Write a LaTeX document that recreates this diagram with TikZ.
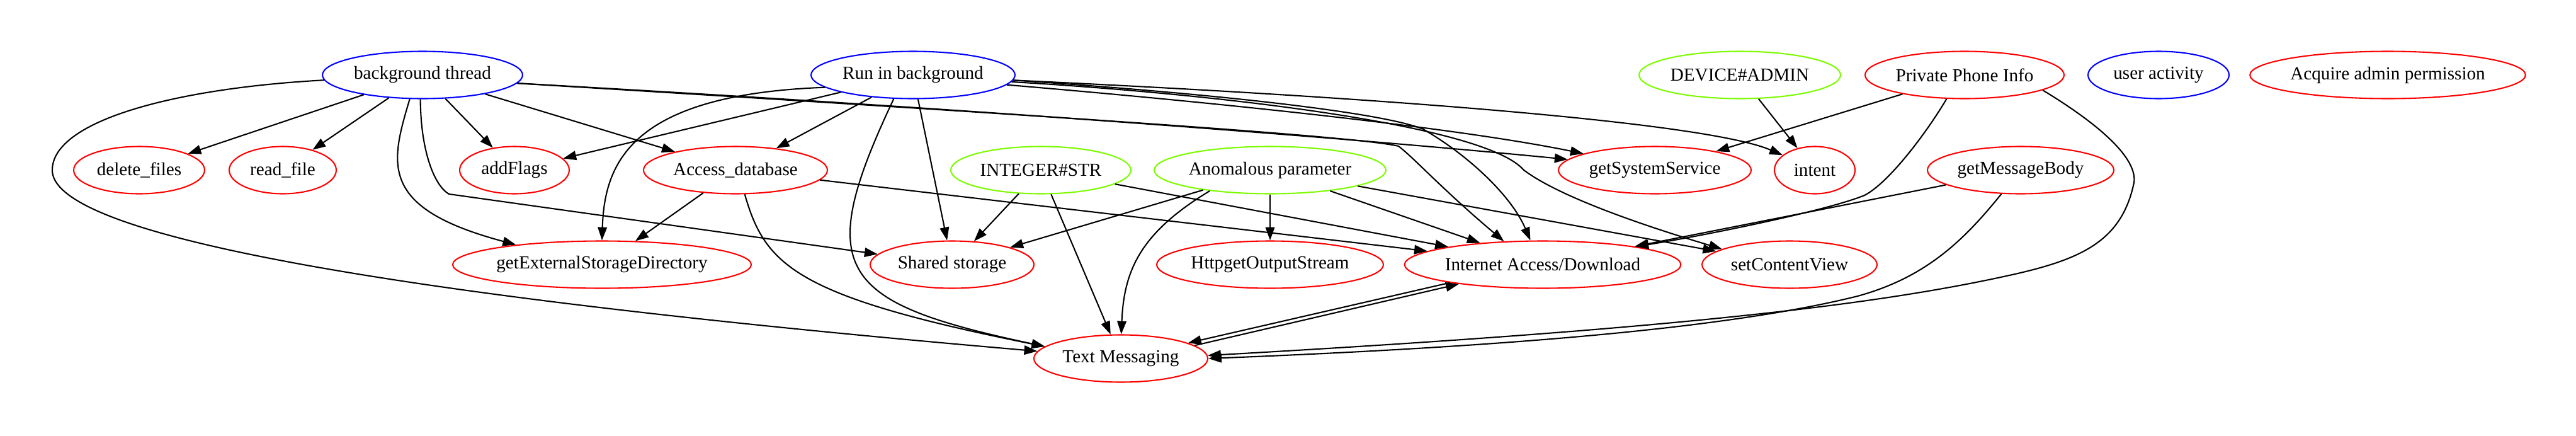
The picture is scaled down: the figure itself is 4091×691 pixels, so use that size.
\documentclass[tikz,border=0pt]{standalone}
\usepackage{fontspec}
\setmainfont{Liberation Serif}
\usetikzlibrary{arrows.meta,shapes.geometric}
\definecolor{gvblue}{RGB}{0,0,255}
\definecolor{gvred}{RGB}{255,0,0}
\definecolor{gvgreen}{RGB}{124,252,0}
\begin{document}
\begin{tikzpicture}[x=0.48pt,y=-0.48pt,
  gn/.style={ellipse,draw,line width=1pt,inner sep=0pt,minimum height=36pt,font=\fontsize{14pt}{17pt}\selectfont},
  bl/.style={gn,draw=gvblue},
  rd/.style={gn,draw=gvred},
  gr/.style={gn,draw=gvgreen},
  e/.style={draw=black,line width=1pt,-{Triangle[length=10pt,width=7pt]}}]
\useasboundingbox (0,0) rectangle (4091,691);
% nodes
\node[bl, minimum width=152.6pt] (bt) at (671,119) {background thread};
\node[bl, minimum width=155.5pt] (rb) at (1450,119) {Run in background};
\node[gr, minimum width=153.6pt] (dev) at (2763,119) {DEVICE\#ADMIN};
\node[rd, minimum width=151.7pt] (pp) at (3120,119) {Private Phone Info};
\node[bl, minimum width=107.5pt] (ua) at (3428,119) {user activity};
\node[rd, minimum width=207.4pt] (aap) at (3792,119) {Acquire admin permission};
\node[rd, minimum width=99.8pt] (del) at (221,270) {delete\_files};
\node[rd, minimum width=81.6pt] (rf) at (449,270) {read\_file};
\node[rd, minimum width=83.5pt] (af) at (817,270) {addFlags};
\node[rd, minimum width=140.2pt] (ad) at (1168,270) {Access\_database};
\node[gr, minimum width=137.3pt] (is) at (1653,270) {INTEGER\#STR};
\node[gr, minimum width=176.6pt] (ap) at (2017,270) {Anomalous parameter};
\node[rd, minimum width=146.9pt] (gss) at (2628,270) {getSystemService};
\node[rd, minimum width=61.4pt] (int) at (2882,270) {intent};
\node[rd, minimum width=142.1pt] (gm) at (3209,270) {getMessageBody};
\node[rd, minimum width=222.7pt] (gesd) at (956,420) {getExternalStorageDirectory};
\node[rd, minimum width=124.8pt] (ss) at (1512,420) {Shared storage};
\node[rd, minimum width=172.8pt] (hos) at (2017,420) {HttpgetOutputStream};
\node[rd, minimum width=207.4pt] (ia) at (2450,420) {Internet Access/Download};
\node[rd, minimum width=133.4pt] (scv) at (2842,420) {setContentView};
\node[rd, minimum width=132.5pt] (tm) at (1780,569) {Text Messaging};
% edges from background thread
\draw[e] (bt) -- (del);
\draw[e] (bt) -- (rf);
\draw[e] (bt) -- (af);
\draw[e] (bt) -- (ad);
\draw[e] (bt.242) .. controls (620,260) and (600,330) .. (gesd.167.5);
\draw[e] (bt.265.7) .. controls (668,240) and (690,295) .. (713,308) -- (ss.172.4);
\draw[e] (bt.183.7) .. controls (277,140) and (83,192) .. (83,270) .. controls (83,350) and (400,450) .. (tm.175.6);
\draw[e] (bt.355.9) .. controls (1500,170) and (2100,215) .. (gss.173.4);
\draw[e] (bt.355.9) .. controls (1600,180) and (2150,215) .. (2221,232) .. controls (2245,250) and (2290,300) .. (ia.149.7);
% edges from Run in background
\draw[e] (rb) -- (af);
\draw[e] (rb.188.4) .. controls (1000,150) and (960,260) .. (gesd.90);
\draw[e] (rb) -- (ad);
\draw[e] (rb.231.9) .. controls (1290,430) and (1330,480) .. (tm.171.8);
\draw[e] (rb) -- (ss);
\draw[e] (rb.354.9) .. controls (1900,160) and (2300,200) .. (gss.167.4);
\draw[e] (rb.357.5) .. controls (2100,150) and (2700,190) .. (int.155.3);
\draw[e] (rb.357) .. controls (1950,150) and (2200,180) .. (2260,205) .. controls (2330,245) and (2400,310) .. (ia.117);
\draw[e] (rb.356.4) .. controls (1950,150) and (2360,200) .. (2420,270) .. controls (2460,300) and (2550,340) .. (scv.167.6);
% Access_database
\draw[e] (ad) -- (gesd);
\draw[e] (ad.291.5) .. controls (1215,420) and (1260,470) .. (tm.171);
\draw[e] (ad) -- (ia);
% INTEGER#STR
\draw[e] (is) -- (ss);
\draw[e] (is) -- (tm);
\draw[e] (is) -- (ia);
% Anomalous parameter
\draw[e] (ap) -- (ss);
\draw[e] (ap.199.3) .. controls (1810,370) and (1785,430) .. (tm.89.5);
\draw[e] (ap) -- (hos);
\draw[e] (ap) -- (ia);
\draw[e] (ap) -- (scv);
% DEVICE#ADMIN
\draw[e] (dev) -- (int);
% Private Phone Info
\draw[e] (pp) -- (gss);
\draw[e] (pp.233.6) .. controls (3060,210) and (3000,290) .. (2961,310) .. controls (2900,335) and (2700,375) .. (ia.11.6);
\draw[e] (pp.349.1) .. controls (3330,195) and (3395,250) .. (3389,290) .. controls (3370,380) and (3310,410) .. (3200,435) .. controls (3000,480) and (2700,520) .. (tm.2.5);
% getMessageBody
\draw[e] (gm) -- (ia);
\draw[e] (gm.231.9) .. controls (3120,380) and (3060,440) .. (2950,470) .. controls (2750,520) and (2400,550) .. (tm.0.8);
% Internet <-> Text Messaging
\draw[e] (ia.191.1) -- (tm.13);
\draw[e] (tm.10.5) -- (ia.193.3);
\end{tikzpicture}
\end{document}
